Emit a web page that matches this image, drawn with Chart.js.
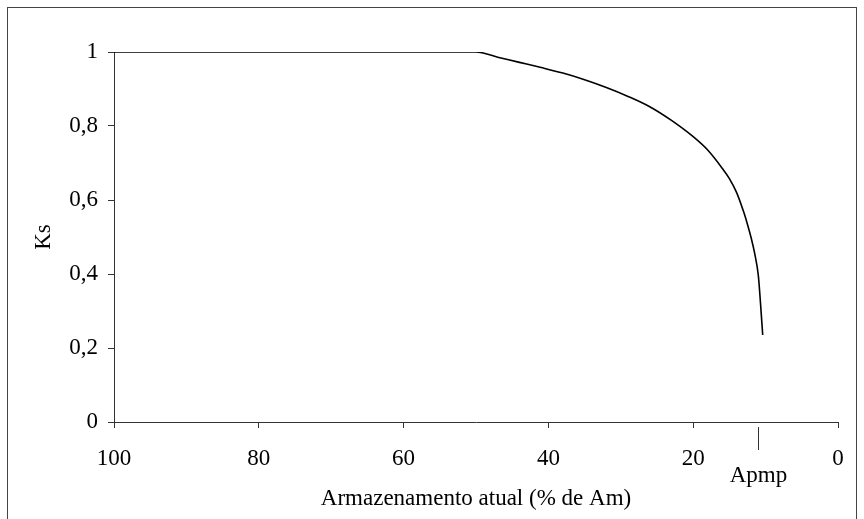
<!DOCTYPE html>
<html>
<head>
<meta charset="utf-8">
<script src="https://cdn.jsdelivr.net/npm/chart.js@4"></script>
<style>
  html, body { margin: 0; padding: 0; background: #fff; }
  #wrap { width: 864px; height: 519px; }
</style>
</head>
<body>
<div id="wrap"><canvas id="ks"></canvas></div>
<script>
'use strict'

// water storage (% of Am) and the Ks
const storage = [100, 50, 47, 44, 41, 38, 35, 32, 29, 26, 23, 20, 18, 16, 15, 14, 13, 12.5, 12, 11.5, 11, 10.7, 10.4]
const ksValues = [1, 1, 0.986, 0.972, 0.958, 0.943, 0.925, 0.904, 0.880, 0.852, 0.815, 0.771, 0.735, 0.686, 0.658, 0.620, 0.566, 0.534, 0.498, 0.455, 0.395, 0.320, 0.235]
// extra marker under the x axis
const apmpMark = [11]
const apmpLabel = ['Apmp']

const FONT = "'Liberation Serif', 'Times New Roman', serif"
const FSIZE = 23
const AXIS = '#333'

let points = []
for (var i = 0; i < storage.length; i++) {
    points.push({x: storage[i], y: ksValues[i]})
}

// white background + outer frame
const framePlugin = {
    id: 'frame',
    beforeDraw(chart) {
        const ctx = chart.ctx
        ctx.save()
        ctx.fillStyle = '#fff'
        ctx.fillRect(0, 0, chart.width, chart.height)
        ctx.strokeStyle = '#444'
        ctx.lineWidth = 1
        ctx.strokeRect(7.5, 7.5, 849, 530)
        ctx.restore()
    }
}

// the Apmp tick and its label
const apmpPlugin = {
    id: 'apmp',
    afterDraw(chart) {
        const ctx = chart.ctx
        const xs = chart.scales.x
        const bottom = chart.chartArea.bottom
        ctx.save()
        apmpMark.forEach((v, k) => {
            const px = Math.round(xs.getPixelForValue(v)) + 0.5
            ctx.strokeStyle = AXIS
            ctx.lineWidth = 1
            ctx.beginPath()
            ctx.moveTo(px, bottom + 5)
            ctx.lineTo(px, bottom + 28)
            ctx.stroke()
            ctx.fillStyle = '#000'
            ctx.font = FSIZE + 'px ' + FONT
            ctx.textAlign = 'center'
            ctx.textBaseline = 'middle'
            ctx.fillText(apmpLabel[k], px, bottom + 54)
        })
        ctx.restore()
    }
}

new Chart(document.getElementById('ks'), {
    type: 'scatter',
    data: {
        datasets: [{
            data: points,
            showLine: true,
            borderColor: '#000',
            borderWidth: 1.6,
            pointRadius: 0,
            cubicInterpolationMode: 'monotone'
        }]
    },
    options: {
        responsive: true,
        maintainAspectRatio: false,
        animation: false,
        layout: { padding: { left: 0, top: 52, right: 26, bottom: 0 } },
        plugins: {
            legend: { display: false },
            tooltip: { enabled: false }
        },
        scales: {
            x: {
                type: 'linear',
                reverse: true,
                min: 0,
                max: 100,
                afterFit(scale) { scale.height = 97 },
                ticks: {
                    stepSize: 20,
                    color: '#000',
                    font: { family: FONT, size: FSIZE },
                    padding: 17,
                    maxRotation: 0
                },
                grid: { drawOnChartArea: false, drawTicks: true, tickLength: 6, color: AXIS },
                border: { display: true, color: AXIS },
                title: {
                    display: true,
                    text: 'Armazenamento atual (% de Am)',
                    color: '#000',
                    font: { family: FONT, size: FSIZE },
                    padding: { top: 0, bottom: 6 }
                }
            },
            y: {
                min: 0,
                max: 1,
                afterFit(scale) { scale.width = 114 },
                ticks: {
                    stepSize: 0.2,
                    color: '#000',
                    font: { family: FONT, size: FSIZE },
                    padding: 10,
                    callback: v => String(Math.round(v * 10) / 10).replace('.', ',')
                },
                grid: { drawOnChartArea: false, drawTicks: true, tickLength: 6, color: AXIS },
                border: { display: true, color: AXIS },
                title: {
                    display: true,
                    text: 'Ks',
                    color: '#000',
                    font: { family: FONT, size: FSIZE },
                    padding: { top: 30, bottom: 0 }
                }
            }
        }
    },
    plugins: [framePlugin, apmpPlugin]
})
</script>
</body>
</html>
